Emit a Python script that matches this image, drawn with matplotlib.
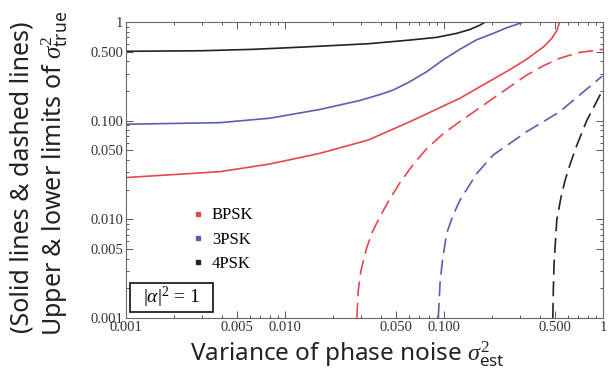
import matplotlib
matplotlib.use("Agg")
import matplotlib.pyplot as plt
from matplotlib.lines import Line2D
from matplotlib.patches import Rectangle
from matplotlib.ticker import FixedLocator, NullFormatter

plt.rcParams['mathtext.fontset'] = 'custom'
plt.rcParams['mathtext.rm'] = 'Liberation Serif'
plt.rcParams['mathtext.sf'] = 'Noto Sans'
plt.rcParams['mathtext.it'] = 'Liberation Serif:italic'
plt.rcParams['mathtext.bf'] = 'Liberation Serif:bold'

# upper limits (solid)
bpsk_up_x = [0.001, 0.0039, 0.00805, 0.0166, 0.0334, 0.0611, 0.126, 0.26, 0.331, 0.422, 0.475, 0.512, 0.533]
bpsk_up_y = [0.0265, 0.0304, 0.0364, 0.0467, 0.0637, 0.0977, 0.169, 0.33, 0.42, 0.56, 0.68, 0.82, 1.0]
psk3_up_x = [0.001, 0.0039, 0.00805, 0.0166, 0.0294, 0.04, 0.048, 0.06, 0.0778, 0.1, 0.126, 0.16, 0.204, 0.25, 0.316]
psk3_up_y = [0.092, 0.0955, 0.106, 0.130, 0.16, 0.185, 0.205, 0.245, 0.314, 0.42, 0.53, 0.66, 0.768, 0.88, 1.0]
psk4_up_x = [0.001, 0.003, 0.0063, 0.013, 0.0334, 0.0611, 0.09, 0.12, 0.145, 0.168, 0.181]
psk4_up_y = [0.505, 0.512, 0.529, 0.558, 0.603, 0.657, 0.70, 0.768, 0.84, 0.93, 1.0]

# lower limits (dashed)
bpsk_lo_x = [0.0283, 0.0289, 0.0300, 0.0327, 0.0355, 0.0396, 0.045, 0.0528, 0.064, 0.0778, 0.1, 0.126,
             0.204, 0.331, 0.42, 0.533, 0.7, 1.0]
bpsk_lo_y = [0.001, 0.0019, 0.0030, 0.0052, 0.0075, 0.0107, 0.0155, 0.0235, 0.036, 0.052, 0.075, 0.098,
             0.169, 0.29, 0.36, 0.429, 0.49, 0.53]
psk3_lo_x = [0.092, 0.0944, 0.098, 0.104, 0.114, 0.126, 0.161, 0.204, 0.331, 0.533, 0.99]
psk3_lo_y = [0.001, 0.00225, 0.004, 0.00723, 0.011, 0.0157, 0.0293, 0.0449, 0.0774, 0.123, 0.284]
psk4_lo_x = [0.483, 0.487, 0.492, 0.512, 0.545, 0.578, 0.62, 0.683, 0.789, 0.957, 0.99]
psk4_lo_y = [0.001, 0.002, 0.0036, 0.0099, 0.017, 0.0251, 0.036, 0.056, 0.10, 0.182, 0.19]

labels = ['BPSK', '3PSK', '4PSK']
colors = ['#e8464e', '#5a5fb0', '#222222']

major = [0.001, 0.005, 0.01, 0.05, 0.1, 0.5, 1]
major_lbl = ['0.001', '0.005', '0.010', '0.050', '0.100', '0.500', '1']

fig = plt.figure(figsize=(6.16, 3.74), dpi=100)
ax = fig.add_axes([0.2045, 0.15, 0.7745, 0.791])

ups = [(bpsk_up_x, bpsk_up_y), (psk3_up_x, psk3_up_y), (psk4_up_x, psk4_up_y)]
los = [(bpsk_lo_x, bpsk_lo_y), (psk3_lo_x, psk3_lo_y), (psk4_lo_x, psk4_lo_y)]
for (ux, uy), (lx, ly), c in zip(ups, los, colors):
    ax.plot(ux, uy, color=c, lw=1.2, solid_joinstyle='round')
    ax.plot(lx, ly, color=c, lw=1.2, dashes=(9, 4))

ax.set_xscale('log')
ax.set_yscale('log')
ax.set_xlim(0.001, 1)
ax.set_ylim(0.001, 1)

minor = [m * 10.0 ** e for e in (-3, -2, -1) for m in (2, 3, 4, 6, 7, 8, 9)]
for axis in (ax.xaxis, ax.yaxis):
    axis.set_major_locator(FixedLocator(major))
    axis.set_minor_locator(FixedLocator(minor))
    axis.set_minor_formatter(NullFormatter())
ax.set_xticklabels(major_lbl, family='Liberation Serif', fontsize=10.5)
ax.set_yticklabels(major_lbl, family='Liberation Serif', fontsize=10.5)
ax.tick_params(which='both', direction='in', top=True, right=True, colors='#555555',
               labelcolor='#333333', width=0.7)
ax.tick_params(which='major', length=5, pad=2)
ax.tick_params(which='minor', length=2.5)
for s in ax.spines.values():
    s.set_color('#666666')
    s.set_linewidth(0.8)

ax.set_xlabel(r'Variance of phase noise $\sigma^2_{\mathsf{est}}$', family='Noto Sans',
              fontsize=17.5, color='#222222')
ax.xaxis.set_label_coords(0.463, -0.075)
ax.xaxis.label.set_va('top')
fig.text(0.036, 0.525, '(Solid lines & dashed lines)', rotation=90, ha='center', va='center',
         family='Noto Sans', fontsize=18, color='#222222')
fig.text(0.088, 0.535, r'Upper & lower limits of $\sigma^2_{\mathsf{true}}$', rotation=90,
         ha='center', va='center', family='Noto Sans', fontsize=18, color='#222222')

handles = [Line2D([], [], marker='s', ls='none', color=c, markersize=3) for c in colors]
ax.legend(handles, labels, loc='upper left', bbox_to_anchor=(0.103, 0.424), frameon=False,
          prop={'family': 'Liberation Serif', 'size': 12}, handletextpad=0.3,
          labelspacing=0.5, handlelength=1.0)

# |alpha|^2 = 1 box
ax.add_patch(Rectangle((0.0084, 0.020), 0.174, 0.098, transform=ax.transAxes,
                       fc='white', ec='#222222', lw=1.3, zorder=4))
ax.text(0.095, 0.069, r'$|\alpha|^2$ = 1', transform=ax.transAxes, ha='center', va='center',
        family='Liberation Serif', fontsize=14, zorder=5)

fig.savefig('out.png', dpi=100)
